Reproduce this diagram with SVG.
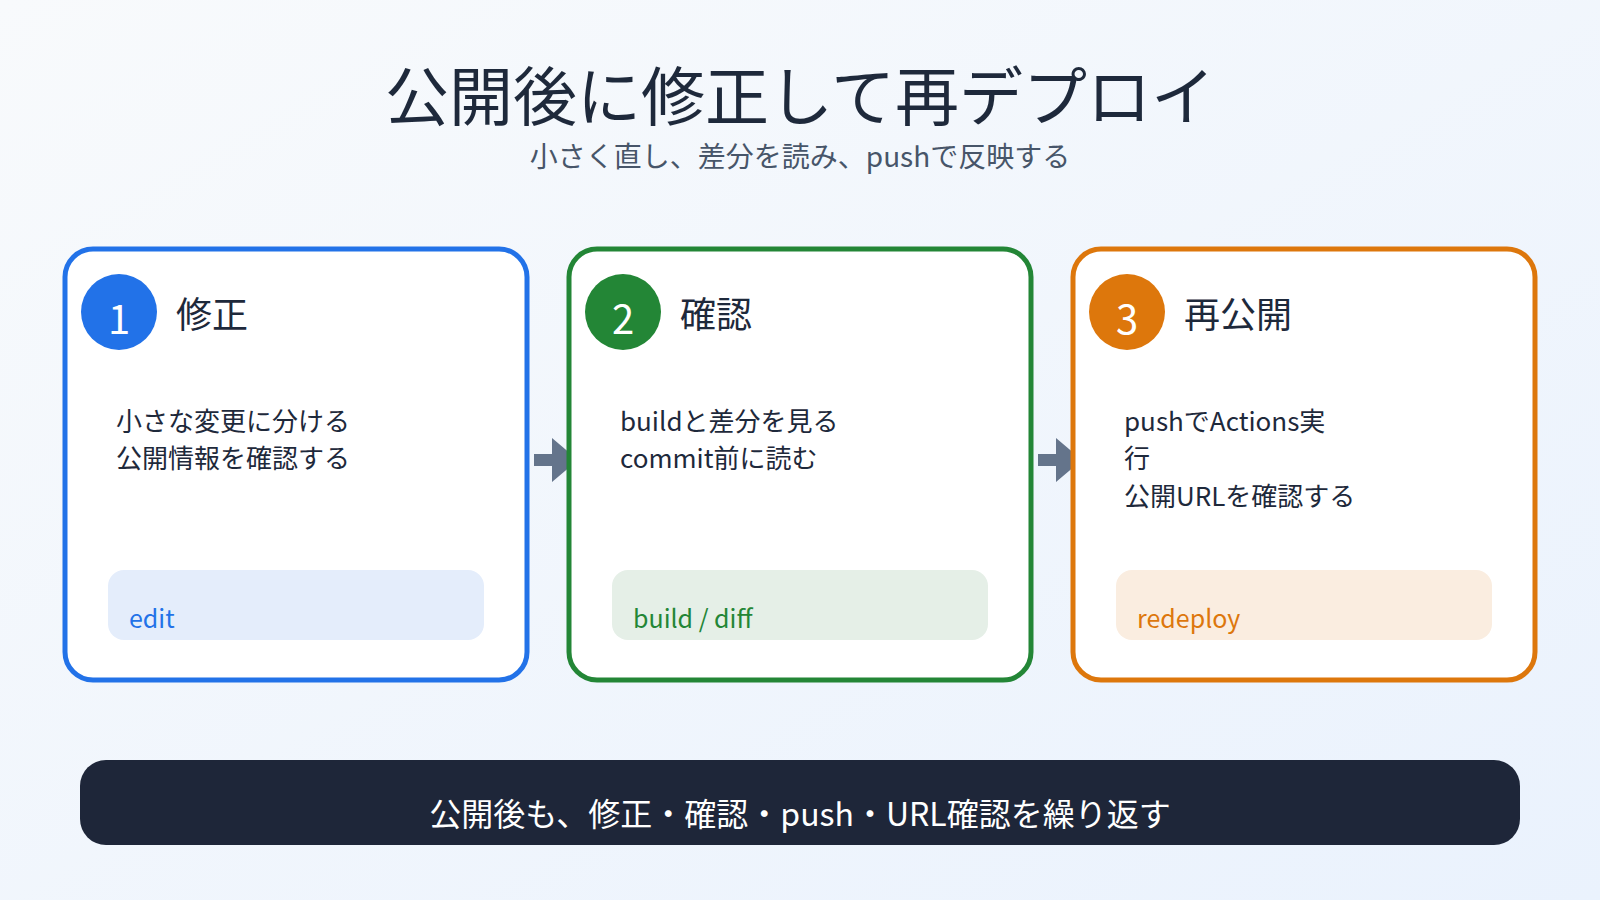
<svg xmlns="http://www.w3.org/2000/svg" width="1600" height="900" viewBox="0 0 1600 900">
<defs>
<linearGradient id="bg" x1="0" y1="0" x2="1" y2="1"><stop offset="0" stop-color="#f8fafc"/><stop offset="1" stop-color="#eaf2fd"/></linearGradient>
<style>
text{font-family:"Noto Sans CJK JP","Noto Sans",sans-serif}
.card{fill:#fff;stroke-width:5}
.h{font-size:36px;fill:#1e293b}
.num{font-size:40px;fill:#fff;text-anchor:middle}
.b{font-size:26px;fill:#1e293b}
.tag{font-size:25px}
</style>
</defs>
<rect width="1600" height="900" fill="url(#bg)"/>
<text x="800" y="120" text-anchor="middle" font-size="64" fill="#1e293b">公開後に修正して再デプロイ</text>
<text x="800" y="167" text-anchor="middle" font-size="28" fill="#475569">小さく直し、差分を読み、pushで反映する</text>
<g id="connectors" fill="#64748b">
<path d="M534 454h18v-16l26 22l-26 22v-16h-18z"/>
<path d="M1038 454h18v-16l26 22l-26 22v-16h-18z"/>
</g>
<g id="step1">
<rect class="card" x="65" y="249" width="462" height="431" rx="28" stroke="#2272e8"/>
<circle cx="119" cy="312" r="38" fill="#2272e8"/><text class="num" x="119" y="334">1</text>
<text class="h" x="176" y="328">修正</text>
<text class="b" x="116" y="431">小さな変更に分ける</text>
<text class="b" x="116" y="468">公開情報を確認する</text>
<rect x="108" y="570" width="376" height="70" rx="16" fill="#e4edfb"/>
<text class="tag" x="129" y="628" fill="#2272e8">edit</text>
</g>
<g id="step2">
<rect class="card" x="569" y="249" width="462" height="431" rx="28" stroke="#238636"/>
<circle cx="623" cy="312" r="38" fill="#238636"/><text class="num" x="623" y="334">2</text>
<text class="h" x="680" y="328">確認</text>
<text class="b" x="620" y="431">buildと差分を見る</text>
<text class="b" x="620" y="468">commit前に読む</text>
<rect x="612" y="570" width="376" height="70" rx="16" fill="#e5efe7"/>
<text class="tag" x="633" y="628" fill="#238636">build / diff</text>
</g>
<g id="step3">
<rect class="card" x="1073" y="249" width="462" height="431" rx="28" stroke="#dd770c"/>
<circle cx="1127" cy="312" r="38" fill="#dd770c"/><text class="num" x="1127" y="334">3</text>
<text class="h" x="1184" y="328">再公開</text>
<text class="b" x="1124" y="431">pushでActions実</text>
<text class="b" x="1124" y="468">行</text>
<text class="b" x="1124" y="506">公開URLを確認する</text>
<rect x="1116" y="570" width="376" height="70" rx="16" fill="#faede0"/>
<text class="tag" x="1137" y="628" fill="#dd770c">redeploy</text>
</g>
<g id="footer">
<rect x="80" y="760" width="1440" height="85" rx="26" fill="#1e2639"/>
<text x="800" y="826" text-anchor="middle" font-size="32" fill="#fff">公開後も、修正・確認・push・URL確認を繰り返す</text>
</g>
</svg>
